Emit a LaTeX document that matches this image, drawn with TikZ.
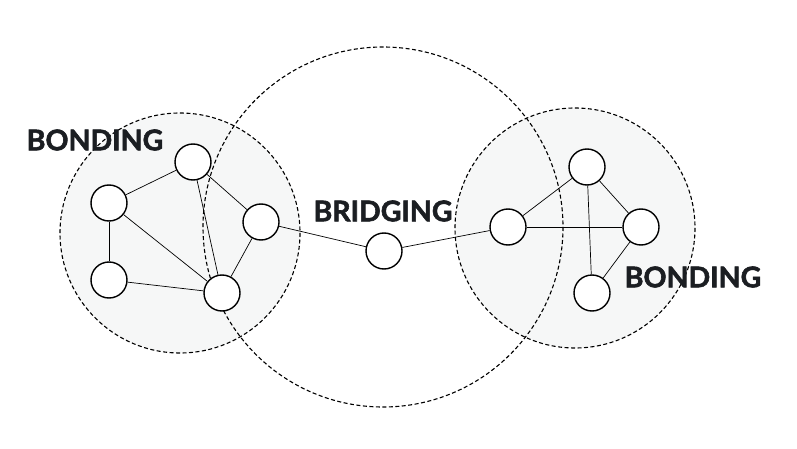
\documentclass[tikz,border=0pt]{standalone}
\usepackage{fontspec}
\usepackage{xcolor}
\usetikzlibrary{shapes,arrows,positioning,calc}
\newfontfamily\labelfont{Lato}[BoldFeatures={FakeBold=2}]
\definecolor{groupfill}{HTML}{F6F7F7}
\definecolor{labelink}{HTML}{1B1E22}
\tikzset{
    member/.style={circle, draw, line width=1.4pt, minimum size=36pt, inner sep=0pt, fill=white},
    link/.style={line width=0.7pt},
    area/.style={line width=1.1pt, dash pattern=on 4pt off 2.5pt},
    tag/.style={font=\labelfont\bfseries\fontsize{28.5}{31}\selectfont, text=labelink, inner sep=0pt}
}

\begin{document}
\begin{tikzpicture}[x=1pt, y=-1pt]
    \useasboundingbox (0,0) rectangle (797,449);

    % Group areas
    \fill[groupfill] (180,233) circle (120);
    \fill[groupfill] (575,228) circle (120);
    \draw[area] (180,233) circle (120);
    \draw[area] (575,228) circle (120);
    \draw[area] (383,227) circle (180);

    % Left group
    \node[member] (a1) at (193,162) {};
    \node[member] (a2) at (109,203) {};
    \node[member] (a3) at (261,222) {};
    \node[member] (a4) at (109,280) {};
    \node[member] (a5) at (222,293) {};

    % Bridge
    \node[member] (b) at (384,251) {};

    % Right group
    \node[member] (c1) at (508,227) {};
    \node[member] (c2) at (587,167) {};
    \node[member] (c3) at (641,227) {};
    \node[member] (c4) at (592,293) {};

    % Links
    \draw[link] (a1) -- (a2);
    \draw[link] (a1) -- (a5);
    \draw[link] (a1) -- (a3);
    \draw[link] (a2) -- (a4);
    \draw[link] (a2) -- (a5);
    \draw[link] (a4) -- (a5);
    \draw[link] (a3) -- (a5);
    \draw[link] (a3) -- (b);
    \draw[link] (b) -- (c1);
    \draw[link] (c1) -- (c2);
    \draw[link] (c1) -- (c3);
    \draw[link] (c2) -- (c3);
    \draw[link] (c2) -- (c4);
    \draw[link] (c3) -- (c4);

    % Labels
    \node[tag] (bondleft) at (95,140) {BONDING};
    \node[tag] (bridge) at (383,211) {BRIDGING};
    \node[tag] (bondright) at (693,277) {BONDING};
\end{tikzpicture}
\end{document}
